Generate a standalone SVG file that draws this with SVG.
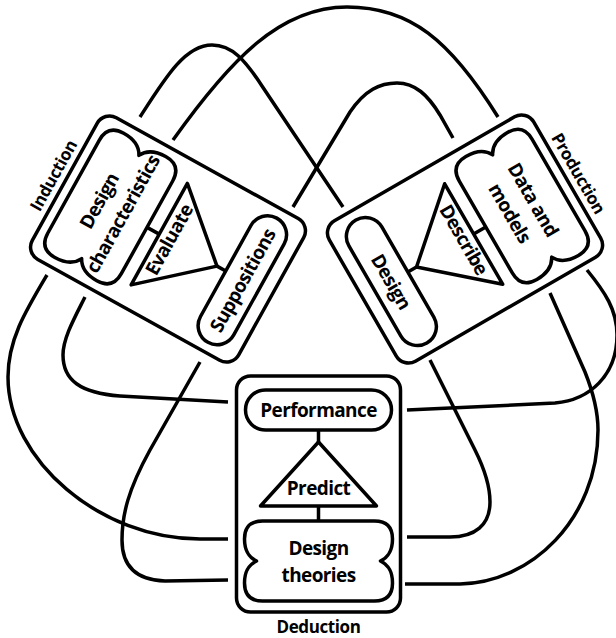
<svg xmlns="http://www.w3.org/2000/svg" width="616" height="638" viewBox="0 0 616 638">
<style>
.s{fill:#fff;stroke:#000;stroke-width:3.5;stroke-linejoin:round}
.k{fill:none;stroke:#000;stroke-width:3.5}
.t{font-family:"Open Sans","Liberation Sans",sans-serif;font-weight:700;font-size:19px;letter-spacing:-0.6px;text-anchor:middle;fill:#000}
.l{font-size:17px;letter-spacing:-0.4px}
</style>
<defs>
<path id="cloudB" d="M-56,-40H56Q74,-40 74,-22C74,-8 68,-3 62,0C68,3 74,8 74,22Q74,40 56,40H-56Q-74,40 -74,22C-74,8 -68,3 -62,0C-68,-3 -74,-8 -74,-22Q-74,-40 -56,-40Z"/>
<path id="cloudS" d="M-53,-42H53Q71,-42 71,-24C71,-9 65,-3 59,0C65,3 71,9 71,24Q71,42 53,42H-53Q-71,42 -71,24C-71,9 -65,3 -59,0C-65,-3 -71,-9 -71,-24Q-71,-42 -53,-42Z"/>
</defs>
<rect width="616" height="638" fill="#fff"/>
<g id="connectors" class="k">
<path d="M173,140C230,60 280,7 347,7C410,7 450,40 498,117"/>
<path d="M140,117C165,78 185,45 212,45C232,45 245,60 262,86L343,207"/>
<path d="M293,207L350,112C365,90 380,83 397,83C415,83 428,95 440,115L453,138"/>
<path d="M47,275C25,312 8,340 8,377C8,460 100,539 200,539L228,539"/>
<path d="M85,297C75,317 63,338 63,355C63,380 80,393 120,396L228,402"/>
<path d="M200,362L150,450C128,490 122,515 122,540C122,565 135,580 165,581L228,580"/>
<path d="M430,360L475,450C486,472 490,488 490,502C490,525 475,537 450,537L407,537"/>
<path d="M587,270C605,292 617,310 617,335C617,375 590,400 555,403L407,410"/>
<path d="M550,293L585,372C593,392 598,410 598,430C598,520 530,583 460,584L405,584"/>
</g>
<g id="induction" transform="translate(168,239) rotate(-61)">
<rect class="s" x="-81" y="-118" width="162" height="236" rx="14"/>
<path class="k" d="M0,-24V-10M0,56V66"/>
<use href="#cloudS" class="s" y="-66"/>
<path class="s" d="M-58,-10H58L0,56Z"/>
<rect class="s" x="-71" y="66" width="142" height="38" rx="19"/>
<text class="t" y="-72">Design</text>
<text class="t" y="-45">characteristics</text>
<text class="t" y="8">Evaluate</text>
<text class="t" y="92">Suppositions</text>
<text class="t l" y="-125">Induction</text>
</g>
<g id="production" transform="translate(465,239) rotate(60)">
<rect class="s" x="-81" y="-118" width="162" height="236" rx="14"/>
<path class="k" d="M0,-24V-10M0,56V66"/>
<use href="#cloudS" class="s" y="-66"/>
<path class="s" d="M-58,-10H58L0,56Z"/>
<rect class="s" x="-71" y="66" width="142" height="38" rx="19"/>
<text class="t" y="-72">Data and</text>
<text class="t" y="-45">models</text>
<text class="t" y="8">Describe</text>
<text class="t" y="92">Design</text>
<text class="t l" y="-125">Production</text>
</g>
<g id="deduction" transform="translate(318.5,494)">
<rect class="s" x="-82" y="-118" width="164" height="236" rx="14"/>
<path class="k" d="M0,-64V-52M0,12V27"/>
<rect class="s" x="-73" y="-104" width="146" height="40" rx="20"/>
<path class="s" d="M0,-52L58,12H-58Z"/>
<use href="#cloudB" class="s" y="67"/>
<text class="t" y="-77">Performance</text>
<text class="t" y="1">Predict</text>
<text class="t" y="61">Design</text>
<text class="t" y="88">theories</text>
<text class="t l" y="139">Deduction</text>
</g>
</svg>
